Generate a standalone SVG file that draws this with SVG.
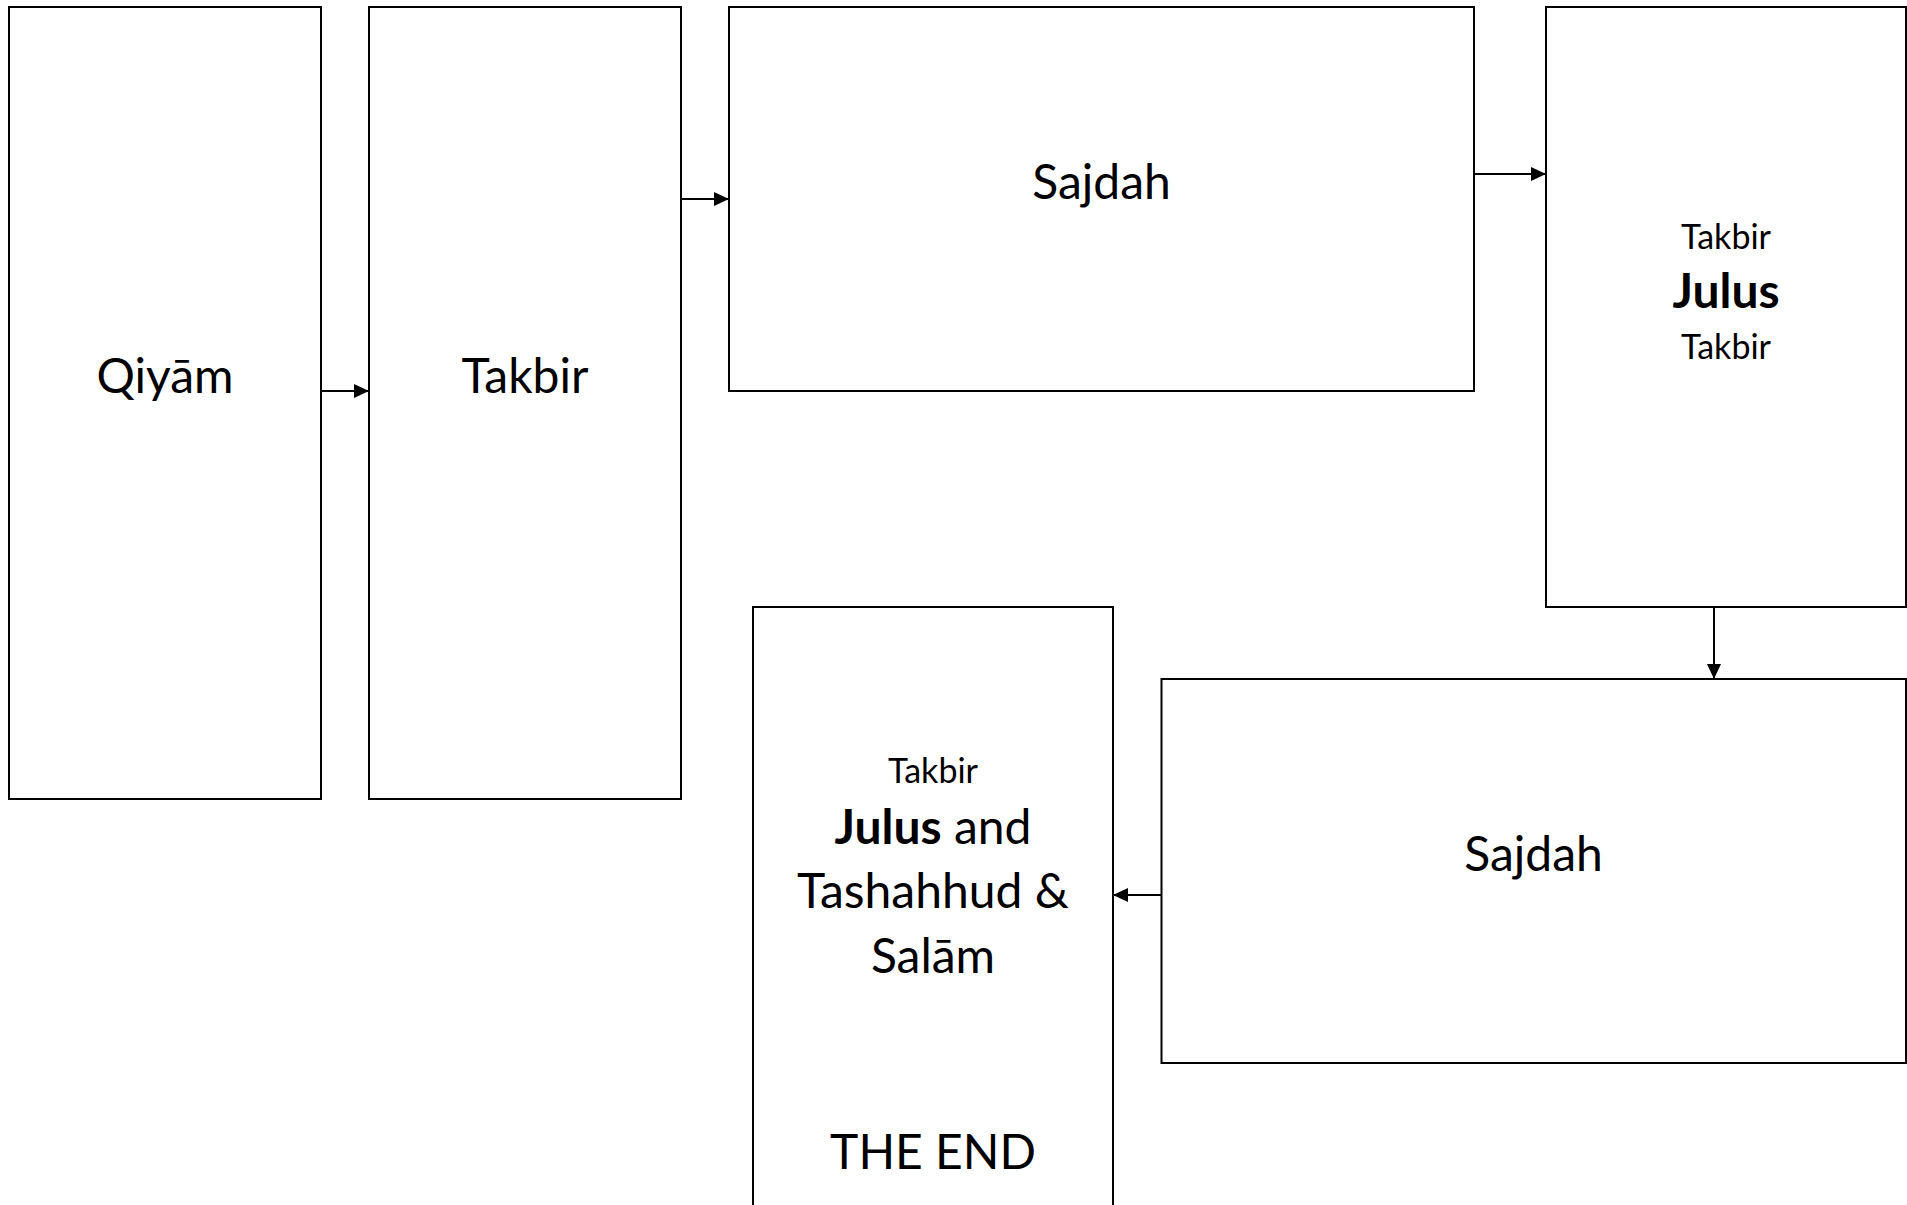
<svg xmlns="http://www.w3.org/2000/svg" width="1907" height="1205" viewBox="0 0 1907 1205">
<style>
.box{fill:#fff;stroke:#000;stroke-width:2}
.t{font-family:Lato,"Liberation Sans",sans-serif;fill:#000;text-anchor:middle}
.lg{font-size:48px}
.sm{font-size:34px}
.b{font-weight:bold}
.c{stroke:#000;stroke-width:2;fill:none;marker-end:url(#ah)}
</style>
<defs>
<marker id="ah" markerUnits="userSpaceOnUse" markerWidth="16" markerHeight="14" refX="15" refY="7" orient="auto">
<path d="M0,0 L15,7 L0,14 Z" fill="#000"/>
</marker>
</defs>
<rect x="0" y="0" width="1907" height="1205" fill="#fff"/>
<g id="qiyam"><rect class="box" x="9" y="7" width="312" height="792"/><text class="t lg" x="165" y="393">Qiyām</text></g>
<g id="takbir"><rect class="box" x="369" y="7" width="312" height="792"/><text class="t lg" x="525" y="393">Takbir</text></g>
<g id="sajdah1"><rect class="box" x="729" y="7" width="745" height="384"/><text class="t lg" x="1101.5" y="199">Sajdah</text></g>
<g id="julus"><rect class="box" x="1546" y="7" width="360" height="600"/>
<text class="t sm" x="1726" y="249">Takbir</text>
<text class="t lg b" x="1726" y="308">Julus</text>
<text class="t sm" x="1726" y="359">Takbir</text></g>
<g id="sajdah2"><rect class="box" x="1161.5" y="679" width="744.5" height="384"/><text class="t lg" x="1533.5" y="871">Sajdah</text></g>
<g id="end"><rect class="box" x="753" y="607" width="360" height="610"/>
<text class="t sm" x="933" y="783">Takbir</text>
<text class="t lg" x="933" y="844"><tspan class="b">Julus</tspan> and</text>
<text class="t lg" x="933" y="908">Tashahhud &amp;</text>
<text class="t lg" x="933" y="973">Salām</text>
<text class="t lg" x="933" y="1169">THE END</text></g>
<g id="connectors">
<line class="c" x1="321" y1="391" x2="369" y2="391"/>
<line class="c" x1="681" y1="199" x2="729" y2="199"/>
<line class="c" x1="1474" y1="174" x2="1546" y2="174"/>
<line class="c" x1="1714" y1="607" x2="1714" y2="679"/>
<line class="c" x1="1161.5" y1="895" x2="1113" y2="895"/>
</g>
</svg>
